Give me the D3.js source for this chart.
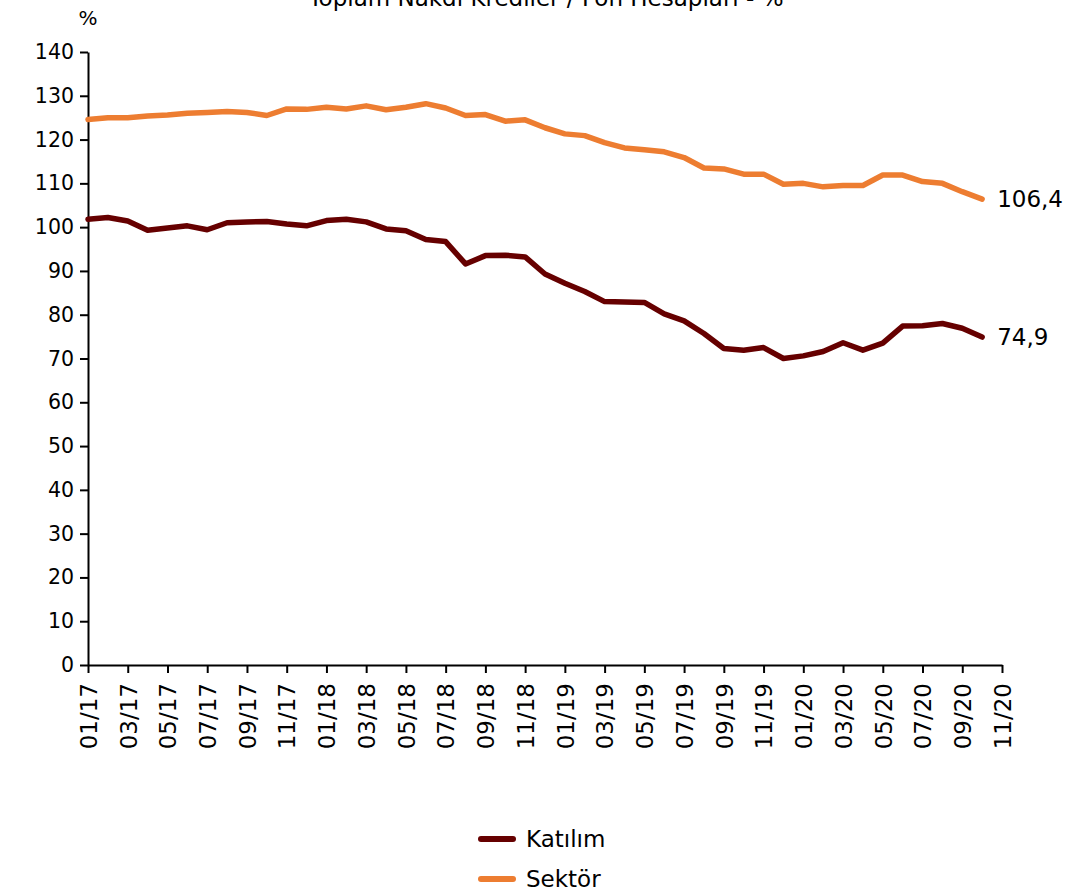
<!DOCTYPE html>
<html>
<head>
<meta charset="utf-8">
<script src="https://cdn.jsdelivr.net/npm/d3@7"></script>
<style>
  body { margin: 0; background: #fff; }
  svg text { font-family: "DejaVu Sans", sans-serif; fill: #000; }
</style>
</head>
<body>
<svg id="chart" width="1092" height="892"></svg>
<script>
const title = "Toplam Nakdi Krediler / Fon Hesapları - %"

// tick labels, every second month from 01/17 to 11/20
const tickLabels = [
  "01/17", "03/17", "05/17", "07/17", "09/17", "11/17",
  "01/18", "03/18", "05/18", "07/18", "09/18", "11/18",
  "01/19", "03/19", "05/19", "07/19", "09/19", "11/19",
  "01/20", "03/20", "05/20", "07/20", "09/20", "11/20"
]

// monthly values, 01/17 .. 10/20
const katilim = [
  101.8, 102.2, 101.4, 99.3, 99.8, 100.3, 99.4, 101.0, 101.2, 101.3, 100.7, 100.3,
  101.5, 101.8, 101.2, 99.6, 99.2, 97.2, 96.7, 91.6, 93.5, 93.6, 93.2, 89.3,
  87.2, 85.3, 83.0, 82.9, 82.8, 80.2, 78.6, 75.7, 72.3, 71.9, 72.5, 70.0,
  70.6, 71.6, 73.6, 71.9, 73.5, 77.4, 77.5, 78.0, 76.9, 74.9
]
const sektor = [
  124.6, 125.0, 125.0, 125.4, 125.6, 126.0, 126.2, 126.4, 126.2, 125.5, 127.0, 126.9,
  127.4, 127.0, 127.7, 126.8, 127.4, 128.2, 127.2, 125.5, 125.7, 124.2, 124.5, 122.7,
  121.3, 120.9, 119.3, 118.1, 117.7, 117.2, 115.9, 113.5, 113.3, 112.1, 112.1, 109.8,
  110.0, 109.2, 109.5, 109.5, 111.9, 111.9, 110.4, 110.0, 108.1, 106.4
]

const seriesNames = ["Katılım", "Sektör"]
const colors = ["#660000", "#ED7D31"]
const endLabels = ["74,9", "106,4"]

const svg = d3.select("#chart")

const plotLeft = 88, plotRight = 1002, plotTop = 52, plotBottom = 665

// month index 0 .. 46 (11/20 is the last tick)
const x = d3.scaleLinear().domain([0, (tickLabels.length - 1) * 2]).range([plotLeft, plotRight])
const y = d3.scaleLinear().domain([0, 140]).range([plotBottom, plotTop])

// title, cut off by the top edge like the original
svg.append("text")
  .attr("x", 546)
  .attr("y", 6)
  .attr("text-anchor", "middle")
  .style("font-size", "23px")
  .text(title)

// y axis
const yAxis = svg.append("g")
  .attr("transform", `translate(${plotLeft},0)`)
  .call(d3.axisLeft(y).tickValues(d3.range(0, 141, 10)).tickSize(8).tickPadding(6).tickSizeOuter(0))
yAxis.selectAll("text").style("font-size", "20.5px").style("font-family", "DejaVu Sans")
yAxis.selectAll("line, path").attr("stroke", "#000").attr("stroke-width", 2)

svg.append("text")
  .attr("x", plotLeft)
  .attr("y", 25)
  .attr("text-anchor", "middle")
  .style("font-size", "20px")
  .text("%")

// x axis
const xAxis = svg.append("g")
  .attr("transform", `translate(0,${plotBottom})`)
  .call(d3.axisBottom(x)
    .tickValues(tickLabels.map((d, i) => i * 2))
    .tickFormat((d, i) => tickLabels[i])
    .tickSize(8)
    .tickSizeOuter(0))
xAxis.selectAll("line, path").attr("stroke", "#000").attr("stroke-width", 2)
xAxis.selectAll("text")
  .style("font-size", "23px")
  .style("font-family", "DejaVu Sans")
  .attr("text-anchor", "end")
  .attr("transform", "rotate(-90)")
  .attr("x", -18)
  .attr("y", 0)
  .attr("dy", "0.36em")

// lines
const line = d3.line().x((d, i) => x(i)).y(d => y(d))

const allSeries = [katilim, sektor]
allSeries.forEach((values, k) => {
  svg.append("path")
    .datum(values)
    .attr("fill", "none")
    .attr("stroke", colors[k])
    .attr("stroke-width", 5.5)
    .attr("stroke-linejoin", "round")
    .attr("stroke-linecap", "round")
    .attr("d", line)

  // end value label
  const last = values.length - 1
  svg.append("text")
    .attr("x", x(last) + 15)
    .attr("y", y(values[last]))
    .attr("dy", "0.36em")
    .style("font-size", "23px")
    .text(endLabels[k])
})

// legend
const legend = svg.append("g")
seriesNames.forEach((name, k) => {
  const ly = 839 + k * 40
  legend.append("line")
    .attr("x1", 481).attr("x2", 513)
    .attr("y1", ly).attr("y2", ly)
    .attr("stroke", colors[k])
    .attr("stroke-width", 6)
    .attr("stroke-linecap", "round")
  legend.append("text")
    .attr("x", 526)
    .attr("y", ly)
    .attr("dy", "0.36em")
    .style("font-size", "23px")
    .text(name)
})
</script>
</body>
</html>
